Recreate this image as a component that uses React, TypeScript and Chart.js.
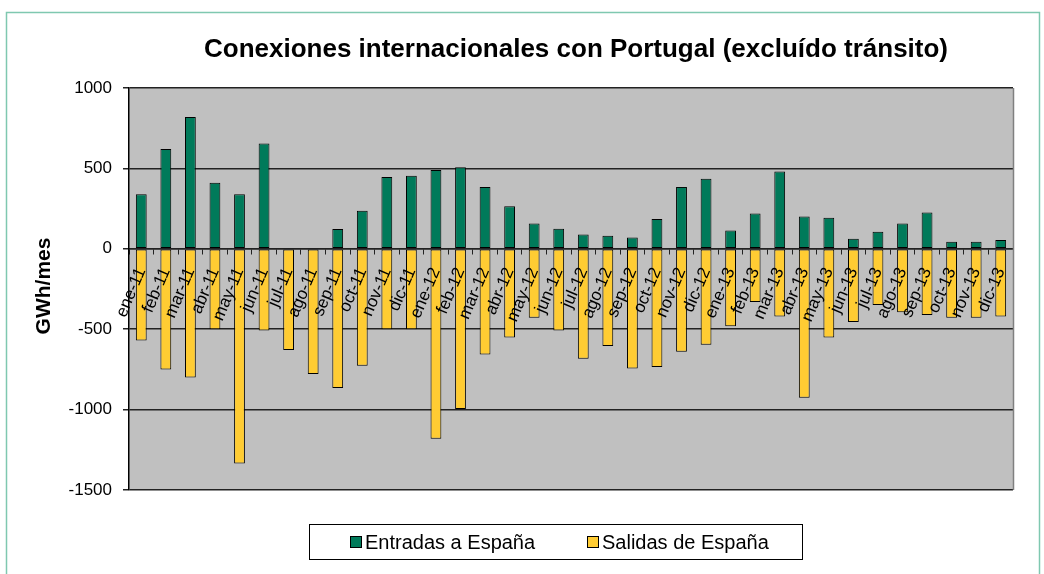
import React, { useEffect, useRef } from "react";
import { Chart, registerables } from "chart.js";

Chart.register(...registerables);

const categories = [
  "ene-11", "feb-11", "mar-11", "abr-11", "may-11", "jun-11", "jul-11", "ago-11", "sep-11", "oct-11", "nov-11", "dic-11",
  "ene-12", "feb-12", "mar-12", "abr-12", "may-12", "jun-12", "jul-12", "ago-12", "sep-12", "oct-12", "nov-12", "dic-12",
  "ene-13", "feb-13", "mar-13", "abr-13", "may-13", "jun-13", "jul-13", "ago-13", "sep-13", "oct-13", "nov-13", "dic-13",
];

const entradas = [
  340, 620, 820, 410, 340, 655, 0, 0, 123, 237, 447, 455,
  490, 507, 384, 264, 158, 125, 89, 81, 71, 185, 385, 436,
  114, 220, 480, 201, 193, 62, 106, 158, 226, 44, 44, 54,
];

const salidas = [
  -570, -750, -800, -500, -1335, -508, -629, -779, -866, -727, -500, -500,
  -1181, -997, -658, -552, -429, -508, -683, -604, -744, -735, -640, -596,
  -481, -331, -421, -927, -552, -456, -350, -394, -412, -429, -429, -421,
];

const yTicks = [1000, 500, 0, -500, -1000, -1500];

const TITLE = "Conexiones internacionales con Portugal (excluído tránsito)";
const Y_TITLE = "GWh/mes";
const SERIES_NAMES = ["Entradas a España", "Salidas de España"];
const GREEN = "#007A5A";
const YELLOW = "#FFCC33";
const FONT = "'Liberation Sans', Arial, sans-serif";

export default function App() {
  const ref = useRef<HTMLCanvasElement | null>(null);

  useEffect(() => {
    if (!ref.current) return;
    const decor = {
      id: "decor",
      beforeDraw(chart: any) {
        const { ctx, chartArea: a } = chart;
        ctx.save();
        ctx.fillStyle = "#fff";
        ctx.fillRect(0, 0, chart.width, chart.height);
        ctx.strokeStyle = "#7FC8B0";
        ctx.lineWidth = 1.5;
        ctx.strokeRect(6.5, 12.5, 1033, 600);
        ctx.fillStyle = "#C0C0C0";
        ctx.fillRect(a.left, a.top, a.right - a.left, a.bottom - a.top);
        ctx.restore();
      },
      afterDraw(chart: any) {
        const { ctx, chartArea: a } = chart;
        ctx.save();
        // right border of plot
        ctx.strokeStyle = "#808080";
        ctx.lineWidth = 1.5;
        ctx.beginPath();
        ctx.moveTo(a.right + 0.5, a.top);
        ctx.lineTo(a.right + 0.5, a.bottom);
        ctx.stroke();
        // title
        ctx.fillStyle = "#000";
        ctx.font = `bold 26px ${FONT}`;
        ctx.textAlign = "center";
        ctx.textBaseline = "alphabetic";
        ctx.fillText(TITLE, 576, 57);
        // y title
        ctx.save();
        ctx.translate(44, 286);
        ctx.rotate(-Math.PI / 2);
        ctx.font = `bold 21px ${FONT}`;
        ctx.textAlign = "center";
        ctx.textBaseline = "middle";
        ctx.fillText(Y_TITLE, 0, 0);
        ctx.restore();
        // legend
        ctx.strokeStyle = "#000";
        ctx.lineWidth = 1;
        ctx.strokeRect(309.5, 524.5, 493, 35);
        ctx.font = `20px ${FONT}`;
        ctx.textAlign = "left";
        ctx.textBaseline = "middle";
        const items = [
          { x: 350, color: GREEN, label: SERIES_NAMES[0] },
          { x: 587, color: YELLOW, label: SERIES_NAMES[1] },
        ];
        items.forEach((it) => {
          ctx.fillStyle = it.color;
          ctx.fillRect(it.x + 0.5, 536.5, 11, 11);
          ctx.strokeStyle = "#000";
          ctx.strokeRect(it.x + 0.5, 536.5, 11, 11);
          ctx.fillStyle = "#000";
          ctx.fillText(it.label, it.x + 15, 543);
        });
        ctx.restore();
      },
    };

    const chart = new Chart(ref.current, {
      type: "bar",
      data: {
        labels: categories,
        datasets: [
          {
            label: SERIES_NAMES[0],
            data: entradas,
            backgroundColor: GREEN,
            borderColor: "#000",
            borderWidth: 1,
            borderSkipped: false,
            barPercentage: 0.44,
            categoryPercentage: 1,
          },
          {
            label: SERIES_NAMES[1],
            data: salidas,
            backgroundColor: YELLOW,
            borderColor: "#000",
            borderWidth: 1,
            borderSkipped: false,
            barPercentage: 0.44,
            categoryPercentage: 1,
          },
        ],
      },
      options: {
        responsive: false,
        devicePixelRatio: 1,
        animation: false,
        layout: { padding: { left: 20, top: 88, right: 31, bottom: 84 } },
        plugins: { legend: { display: false }, title: { display: false }, tooltip: { enabled: false } },
        scales: {
          x: {
            position: { y: 0 } as any,
            stacked: true,
            grid: { drawOnChartArea: false, drawTicks: true, tickLength: 5, color: "#222", offset: true },
            border: { display: true, color: "#222", width: 1.5 },
            ticks: {
              autoSkip: false,
              minRotation: 67,
              maxRotation: 67,
              padding: 11,
              color: "#000",
              font: { size: 17, family: FONT },
              z: 1,
            } as any,
          },
          y: {
            stacked: true,
            min: -1500,
            max: 1000,
            afterBuildTicks(scale: any) {
              scale.ticks = yTicks.map((v) => ({ value: v }));
            },
            afterFit(scale: any) {
              scale.width = 109;
            },
            grid: { color: "#222", lineWidth: 1.5, drawTicks: true, tickLength: 6 },
            border: { display: true, color: "#000", width: 1.5 },
            ticks: {
              padding: 11,
              color: "#000",
              font: { size: 17, family: FONT },
              callback: (v: any) => String(v),
            },
          },
        },
      },
      plugins: [decor],
    });
    return () => chart.destroy();
  }, []);

  return (
    <div style={{ position: "absolute", left: 0, top: 0, width: 1044, height: 574 }}>
      <canvas ref={ref} width={1044} height={574} style={{ display: "block" }} />
    </div>
  );
}
